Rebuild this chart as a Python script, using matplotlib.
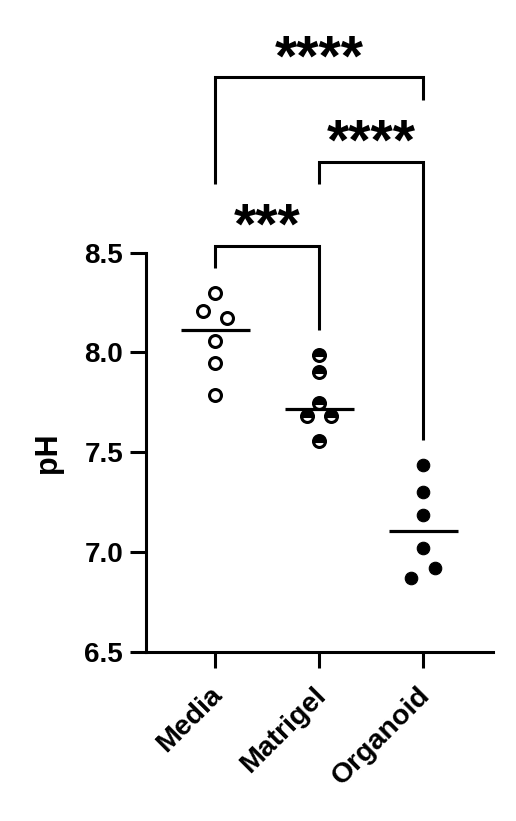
import matplotlib
matplotlib.use("Agg")
import matplotlib.pyplot as plt
from matplotlib.transforms import ScaledTranslation
import numpy as np

plt.rcParams['font.family'] = ['Liberation Sans', 'DejaVu Sans']
plt.rcParams['font.weight'] = 'bold'

categories = ["Media", "Matrigel", "Organoid"]
media = [8.296, 8.208, 8.171, 8.057, 7.946, 7.787]
matrigel = [7.987, 7.904, 7.748, 7.683, 7.683, 7.556]
organoid = [7.436, 7.299, 7.185, 7.021, 6.921, 6.868]
yticks = [6.5, 7.0, 7.5, 8.0, 8.5]
ytick_labels = ["6.5", "7.0", "7.5", "8.0", "8.5"]

# comparisons: (group a, group b, label)
comparisons = [(0, 1, "***"), (1, 2, "****"), (0, 2, "****")]

# horizontal jitter of individual points (layout)
jitter = [
    [0, -0.118, 0.112, 0, 0, 0],
    [0, 0, 0, -0.118, 0.115, 0],
    [0, 0, 0, 0, 0.112, -0.12],
]

fig = plt.figure(figsize=(5.16, 8.21), dpi=100)
ax = fig.add_axes([146/516, 169.3/821, 347/516, 399/821])

groups = [media, matrigel, organoid]
styles = [
    dict(marker='o', mfc='white', mec='black', mew=2.2, ms=8.6, ls='none'),
    dict(marker='o', mfc='black', mfcalt='white', fillstyle='top', mec='black', mew=2.2, ms=8.6, ls='none'),
    dict(marker='o', mfc='black', mec='black', mew=0.8, ms=9.0, ls='none'),
]
for i, (vals, st) in enumerate(zip(groups, styles)):
    xs = np.array(jitter[i]) + i
    ax.plot(xs, vals, clip_on=False, zorder=3, **st)
    med = np.median(vals)
    ax.plot([i - 0.33, i + 0.33], [med, med], color='black', lw=2.3, solid_capstyle='butt', zorder=4, clip_on=False)

ax.set_xlim(-0.665, 2.67)
ax.set_ylim(6.5, 8.5)
ax.set_xticks(range(len(categories)))
ax.set_xticklabels([])
lab_trans = ax.get_xaxis_transform() + ScaledTranslation(-0.06, -0.305, fig.dpi_scale_trans)
for i, cat in enumerate(categories):
    ax.text(i, 0, cat, transform=lab_trans, rotation=45, ha='right', va='top',
            rotation_mode='anchor', fontsize=20.5, fontweight='bold', clip_on=False)
ax.set_yticks(yticks)
ax.set_yticklabels(ytick_labels, fontsize=20, fontweight='bold')
ax.set_ylabel("pH", fontsize=22, fontweight='bold')
ax.yaxis.set_label_coords(-0.24, 0.498)

for s in ['top', 'right']:
    ax.spines[s].set_visible(False)
for s in ['left', 'bottom']:
    ax.spines[s].set_linewidth(2.2)
ax.tick_params(axis='both', width=2.2, length=11.5, color='black')
ax.tick_params(axis='y', pad=5)

# significance brackets: (bar_y, left_bottom, right_bottom, text_center_y)
bracket_geom = [
    (8.534, 8.422, 8.113, 8.669),
    (8.953, 8.843, 7.561, 9.09),
    (9.379, 8.843, 9.265, 9.516),
]
star_fs = 41
for (a, b, lab), (yb, yl, yr, yt) in zip(comparisons, bracket_geom):
    ax.plot([a, a, b, b], [yl, yb, yb, yr], color='black', lw=2.2, clip_on=False,
            solid_joinstyle='miter', solid_capstyle='butt')
    ax.annotate(lab, xy=((a + b) / 2, yt), xytext=(0, -0.44 * star_fs), textcoords='offset points',
                ha='center', va='baseline', fontsize=star_fs, fontweight='bold', annotation_clip=False)

fig.savefig("out.png", dpi=100)
